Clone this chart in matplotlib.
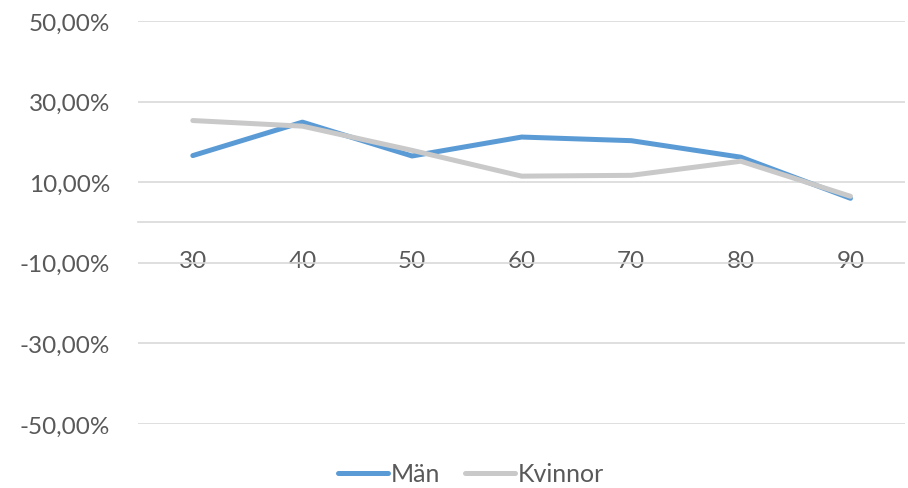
import matplotlib.pyplot as plt
from matplotlib.ticker import FuncFormatter

# Andel per åldersgrupp
aldrar = ["30", "40", "50", "60", "70", "80", "90"]
man = [0.166, 0.249, 0.165, 0.212, 0.203, 0.162, 0.060]
kvinnor = [0.253, 0.239, 0.179, 0.115, 0.117, 0.152, 0.065]

plt.rcParams["font.family"] = ["Lato", "DejaVu Sans"]
textfarg = "#595959"

fig = plt.figure(figsize=(9.08, 4.89), dpi=100)
ax = fig.add_axes([0.152, 0.131, 0.845, 0.824])

x = range(len(aldrar))
ax.plot(x, man, color="#5B9BD5", lw=3.6, label="Män", solid_capstyle="round")
ax.plot(x, kvinnor, color="#C9C9C9", lw=3.6, label="Kvinnor", solid_capstyle="round")

ax.set_xlim(-0.5, len(aldrar) - 0.5)
ax.set_ylim(-0.5, 0.5)
ax.set_yticks([-0.5, -0.3, -0.1, 0.1, 0.3, 0.5])
ax.yaxis.set_major_formatter(FuncFormatter(lambda v, p: f"{v * 100:.2f}%".replace(".", ",")))
ax.grid(axis="y", color="#D9D9D9", lw=1.2)
ax.set_axisbelow(True)

ax.set_xticks(list(x))
ax.set_xticklabels(aldrar)
for s in ["top", "right", "left"]:
    ax.spines[s].set_visible(False)
ax.spines["bottom"].set_position(("data", 0))
ax.spines["bottom"].set_color("#D9D9D9")
ax.spines["bottom"].set_linewidth(1.2)
ax.tick_params(axis="both", length=0, labelsize=17.5, labelcolor=textfarg)
ax.tick_params(axis="x", pad=20)
ax.tick_params(axis="y", pad=20)

ax.legend(loc="center", bbox_to_anchor=(0.434, -0.124), ncol=2, frameon=False,
          fontsize=18, labelcolor=textfarg, handlelength=2.0, handletextpad=0.12,
          columnspacing=1.0)

fig.savefig("out.png", dpi=100)
